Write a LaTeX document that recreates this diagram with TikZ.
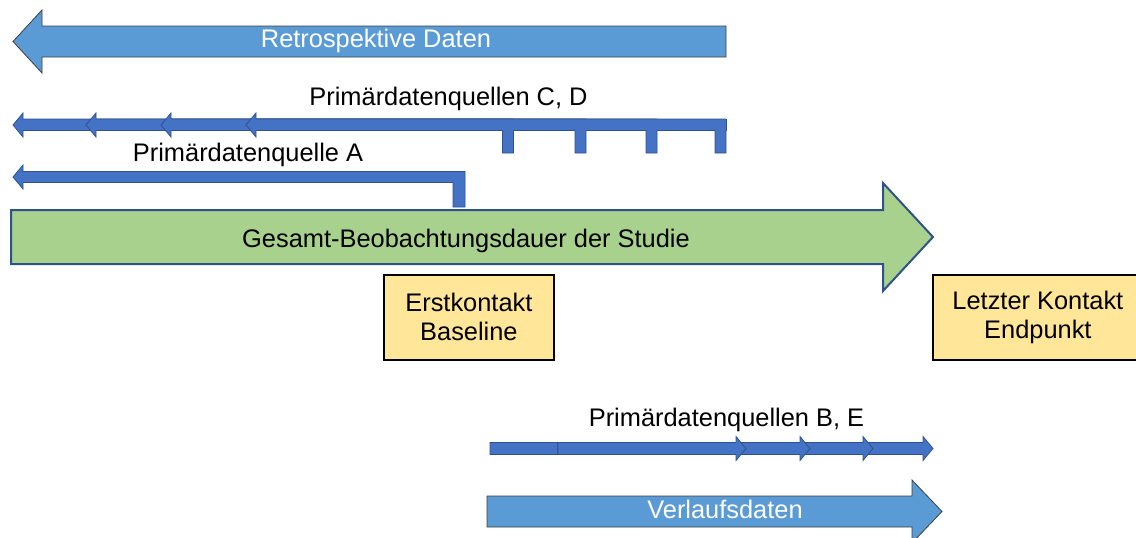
\documentclass[tikz,border=0pt]{standalone}
\usepackage{fontspec}
\setmainfont{Liberation Sans}
\definecolor{retro}{HTML}{5B9BD5}
\definecolor{thinblue}{HTML}{4472C4}
\definecolor{outl}{HTML}{2F528F}
\definecolor{gesgreen}{HTML}{A9D18E}
\definecolor{boxy}{HTML}{FFE699}
\begin{document}
\begin{tikzpicture}[x=1pt,y=-1pt,
  bigarrow/.style={fill=retro, draw=black!75, line width=0.8pt, line join=miter},
  thinarrow/.style={fill=thinblue, draw=outl, line width=0.8pt, line join=miter},
  thinfill/.style={fill=thinblue},
  thinline/.style={draw=outl, line width=0.8pt, line join=miter},
  greenarrow/.style={fill=gesgreen, draw=outl, line width=2pt, line join=miter},
  lbl/.style={font=\fontsize{25.4}{29}\selectfont, inner sep=0pt, anchor=base},
  wlbl/.style={lbl, text=white},
  markbox/.style={fill=boxy, draw=black, line width=1.8pt, font=\fontsize{25.4}{29}\selectfont, align=center, inner sep=0pt, anchor=north west}]
\useasboundingbox (0,0) rectangle (1136,538);
\clip (0,0) rectangle (1136,538);
% Retrospektive Daten
\draw[bigarrow] (726,26) -- (42,26) -- (42,10) -- (13,41.5) -- (42,73) -- (42,57) -- (726,57) -- cycle;
\node[wlbl] (retro) at (376,47.5) {Retrospektive Daten};
% Primaerdatenquellen C, D
\foreach \t/\h in {720.5/13, 651.5/86, 580.5/161, 508/246}{
  \fill[thinfill] ({\t+5.5},153) -- ({\t+5.5},119) -- ({\h+10},119) -- ({\h+10},113) -- (\h,125) -- ({\h+10},137) -- ({\h+10},130.5) -- ({\t-5.5},130.5) -- ({\t-5.5},153) -- cycle;
  \draw[thinline] ({\t+5.5},130.5) -- ({\t+5.5},153) -- ({\t-5.5},153) -- ({\t-5.5},130.5) -- ({\h+10},130.5) -- ({\h+10},137) -- (\h,125) -- ({\h+10},113) -- ({\h+10},119) -- ({\t+5.5},119);
}
\draw[thinline] (726,119) -- (726,131);
\node[lbl] (cd) at (448.5,105) {Primärdatenquellen C, D};
% Primaerdatenquelle A
\draw[thinarrow] (465,207) -- (465,171.5) -- (23,171.5) -- (23,165) -- (13,177) -- (23,189) -- (23,182.5) -- (453,182.5) -- (453,207) -- cycle;
\node[lbl] (qa) at (248,161.5) {Primärdatenquelle A};
% Gesamt-Beobachtungsdauer
\draw[greenarrow] (11,210) -- (883,210) -- (883,183) -- (933,237) -- (883,291) -- (883,264) -- (11,264) -- cycle;
\node[lbl] (ges) at (466,247) {Gesamt-Beobachtungsdauer der Studie};
% Boxes
\node[markbox, minimum width=170pt, minimum height=85pt] (erst) at (383,274) {Erstkontakt\\Baseline};
\node[markbox, minimum width=210pt, minimum height=85pt] (letzt) at (932,274) {Letzter Kontakt\\Endpunkt};
% Primaerdatenquellen B, E
\foreach \s/\h in {490/933, 558/873, 558/810, 558/746}{
  \draw[thinarrow] (\s,442.5) -- ({\h-10},442.5) -- ({\h-10},436.5) -- (\h,448.5) -- ({\h-10},460.5) -- ({\h-10},454.5) -- (\s,454.5) -- cycle;
}
\node[lbl] (be) at (726.5,426.5) {Primärdatenquellen B, E};
% Verlaufsdaten
\draw[bigarrow] (487,496) -- (912,496) -- (912,480) -- (942,511.5) -- (912,543) -- (912,527) -- (487,527) -- cycle;
\node[wlbl] (verl) at (725,518) {Verlaufsdaten};
\end{tikzpicture}
\end{document}
